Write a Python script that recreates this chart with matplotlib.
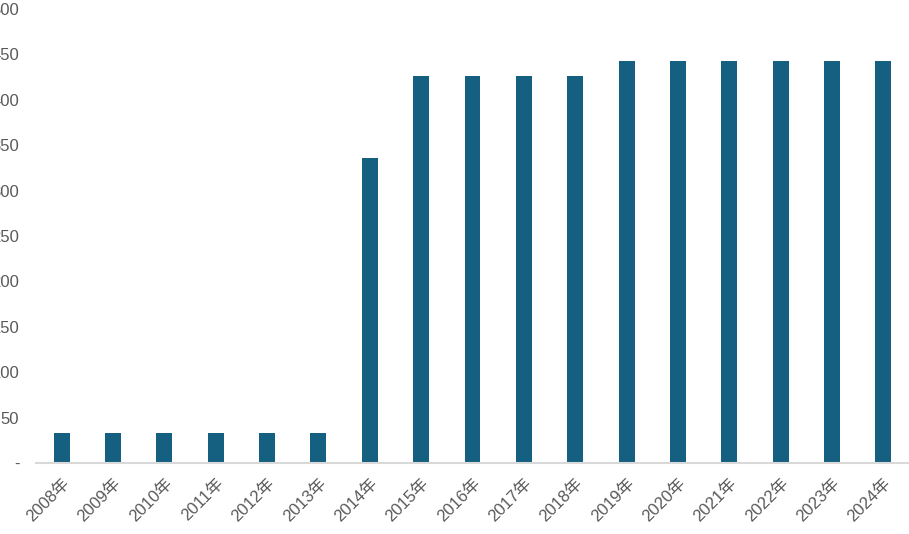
import matplotlib
matplotlib.use("Agg")
import matplotlib.pyplot as plt

plt.rcParams['font.family'] = ['Liberation Sans', 'Noto Sans CJK SC', 'DejaVu Sans']

years = [f"{y}年" for y in range(2008, 2025)]
values = [33, 33, 33, 33, 33, 33, 336, 426, 426, 426, 426, 443, 443, 443, 443, 443, 443]
yticks = [0, 50, 100, 150, 200, 250, 300, 350, 400, 450, 500]
ytick_labels = ["-"] + [str(v) for v in yticks[1:]]

fig = plt.figure(figsize=(9.09, 5.34), dpi=100)
ax = fig.add_axes([36 / 909, 71 / 534, 873 / 909, 454 / 534])

x = range(len(years))
ax.bar(x, values, width=0.31, color="#155F81")

ax.set_xlim(-0.5, len(years) - 0.5)
ax.set_ylim(0, 500)
ax.set_yticks(yticks)
ax.set_yticklabels(ytick_labels)
ax.set_xticks(list(x))
ax.set_xticklabels(years, rotation=45, ha="right", rotation_mode="anchor")

ax.tick_params(axis="y", length=0, pad=12, labelsize=12, labelcolor="#595959")
ax.tick_params(axis="x", length=0, pad=9, labelsize=12, labelcolor="#595959")

for side in ["top", "right", "left"]:
    ax.spines[side].set_visible(False)
ax.spines["bottom"].set_color("#D9D9D9")
ax.spines["bottom"].set_linewidth(1.5)

fig.savefig("out.png", dpi=100)
